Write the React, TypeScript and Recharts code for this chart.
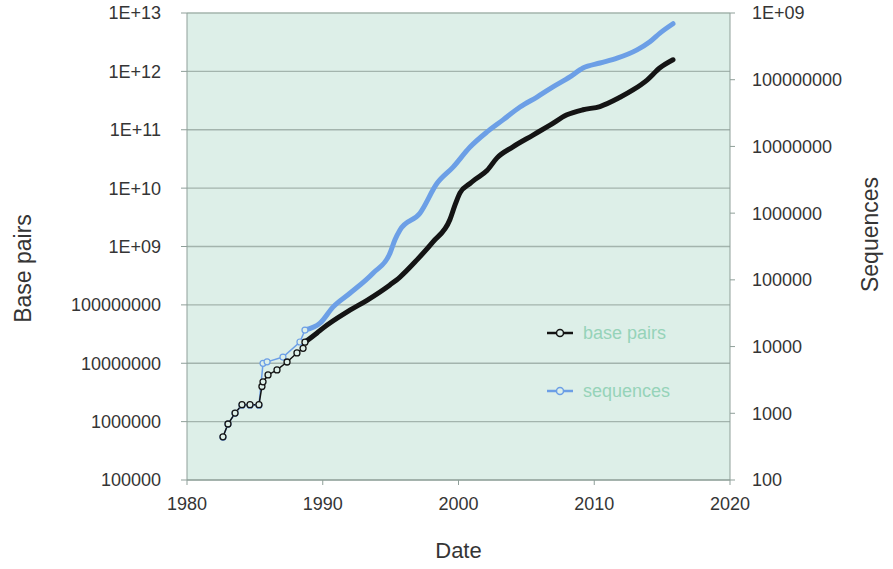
import { ComposedChart, Line, XAxis, YAxis, CartesianGrid, Label } from 'recharts';

// values
const bpYears = [
  1982.65, 1983.02, 1983.54, 1984.05, 1984.64, 1985.3, 1985.52, 1985.6, 1985.97, 1986.63,
  1987.37, 1988.1, 1988.55, 1988.69, 1989.58, 1990.02, 1992.0, 1993.26, 1994.95, 1995.69,
  1996.94, 1998.12, 1999.37, 1999.74, 2000.11, 2000.85, 2001.2, 2002.1, 2002.84, 2004.01,
  2005.49, 2006.74, 2007.99, 2009.17, 2010.42, 2011.9, 2012.85, 2013.89, 2014.84, 2015.8,
];
const bpValues = [
  5.5e5, 9.1e5, 1.4e6, 1.95e6, 1.95e6, 1.95e6, 4.0e6, 4.8e6, 6.3e6, 7.7e6,
  1.05e7, 1.5e7, 1.8e7, 2.3e7, 3.3e7, 4.0e7, 8.1e7, 1.2e8, 2.2e8, 3.0e8,
  5.9e8, 1.2e9, 2.9e9, 5.1e9, 8.3e9, 1.2e10, 1.4e10, 2.0e10, 3.3e10, 5.1e10,
  8.1e10, 1.2e11, 1.8e11, 2.2e11, 2.5e11, 3.6e11, 4.8e11, 7.1e11, 1.15e12, 1.58e12,
];

const seqYears = [
  1982.65, 1983.02, 1983.54, 1984.05, 1984.64, 1985.3, 1985.6, 1985.9, 1987.07, 1988.32,
  1988.69, 1989.8, 1990.75, 1992.0, 1993.7, 1994.95, 1995.32, 1995.69, 1997.16, 1998.42,
  1999.6, 2000.85, 2002.1, 2003.28, 2004.53, 2005.78, 2006.96, 2008.21, 2009.17, 2010.42,
  2011.68, 2013.15, 2014.1, 2014.84, 2015.8,
];
const seqValues = [
  436, 690, 1000, 1320, 1320, 1320, 5600, 5900, 6960, 11700,
  17700, 22400, 39000, 63000, 126000, 250000, 400000, 560000, 1.0e6, 2.8e6,
  4.9e6, 9.8e6, 1.65e7, 2.5e7, 3.9e7, 5.5e7, 7.8e7, 1.1e8, 1.5e8, 1.78e8,
  2.1e8, 2.8e8, 3.7e8, 5.0e8, 6.9e8,
];

const yearTicks = [1980, 1990, 2000, 2010, 2020];
const bpTicks = [1e5, 1e6, 1e7, 1e8, 1e9, 1e10, 1e11, 1e12, 1e13];
const seqTicks = [1e2, 1e3, 1e4, 1e5, 1e6, 1e7, 1e8, 1e9];

// the early years are sparse points; after the 1988 jump the points are dense
const SPLIT = 1988.7;

const bpData = bpYears.map((year, i) => ({ year, bp: bpValues[i] }));
const seqData = seqYears.map((year, i) => ({ year, seq: seqValues[i] }));

const FONT = '"Liberation Sans", Arial, Helvetica, sans-serif';
const BG = '#ddefe8';
const BLACK = '#141414';
const BLUE = '#6c9fe6';
const TEXT = '#353535';

const fmt = (v: number) => {
  const e = Math.round(Math.log10(v));
  return e >= 9 ? `1E+${String(e).padStart(2, '0')}` : String(v);
};

function AxisTitle({ viewBox, text, dx, dy }: any) {
  const cx = viewBox.x + dx;
  const cy = viewBox.y + viewBox.height / 2 + dy;
  return (
    <text x={cx} y={cy} transform={`rotate(-90 ${cx} ${cy})`} textAnchor="middle"
      dominantBaseline="central" fill={TEXT} fontSize={23} fontFamily={FONT}>
      {text}
    </text>
  );
}

function LegendBox() {
  const row = (color: string, label: string) => (
    <div style={{ display: 'flex', alignItems: 'center', height: 22 }}>
      <svg width={28} height={12}>
        <line x1={0} y1={6} x2={26} y2={6} stroke={color} strokeWidth={2.5} />
        <circle cx={13} cy={6} r={3.5} stroke={color} strokeWidth={1.5} fill={BG} />
      </svg>
      <span style={{ marginLeft: 8, color: '#96d3b9', fontSize: 18, fontFamily: FONT }}>{label}</span>
    </div>
  );
  return (
    <div style={{ position: 'absolute', left: 547, top: 322 }}>
      {row(BLACK, 'base pairs')}
      <div style={{ height: 36 }} />
      {row(BLUE, 'sequences')}
    </div>
  );
}

export default function App() {
  return (
    <div style={{ position: 'absolute', left: 0, top: 0, width: 893, height: 569, background: '#fff' }}>
      <ComposedChart width={893} height={569} margin={{ top: 13, right: 0, bottom: 0, left: 0 }}>
        <CartesianGrid yAxisId="bp" vertical={false} stroke="#a3b4ad" strokeWidth={1.3} fill={BG} fillOpacity={1} />
        <XAxis
          dataKey="year"
          type="number"
          domain={[1980, 2020]}
          ticks={yearTicks}
          allowDataOverflow
          height={89}
          stroke="#8f9f99"
          tickSize={5}
          tickMargin={12}
          tick={{ fill: TEXT, fontSize: 18, fontFamily: FONT }}
        >
          <Label value="Date" position="insideBottom" offset={11} fill={TEXT} fontSize={22} fontFamily={FONT} />
        </XAxis>
        <YAxis
          yAxisId="bp"
          orientation="left"
          scale="log"
          domain={[1e5, 1e13]}
          ticks={bpTicks}
          allowDataOverflow
          width={187}
          stroke="#8f9f99"
          tickSize={6}
          tickMargin={20}
          tickFormatter={fmt}
          tick={{ fill: TEXT, fontSize: 18, fontFamily: FONT }}
        >
          <Label content={(p: any) => <AxisTitle viewBox={p.viewBox} text="Base pairs" dx={23} dy={22} />} />
        </YAxis>
        <YAxis
          yAxisId="seq"
          orientation="right"
          scale="log"
          domain={[1e2, 1e9]}
          ticks={seqTicks}
          allowDataOverflow
          width={163}
          stroke="#8f9f99"
          tickSize={5}
          tickMargin={17}
          tickFormatter={fmt}
          tick={{ fill: TEXT, fontSize: 18, fontFamily: FONT }}
        >
          <Label content={(p: any) => <AxisTitle viewBox={p.viewBox} text="Sequences" dx={140} dy={-12} />} />
        </YAxis>

        <Line yAxisId="seq" data={seqData.filter(d => d.year <= SPLIT)} dataKey="seq" name="sequences"
          stroke={BLUE} strokeWidth={1.5} dot={{ r: 3, stroke: BLUE, strokeWidth: 1.2, fill: BG }}
          isAnimationActive={false} />
        <Line yAxisId="seq" type="monotone" data={seqData.filter(d => d.year >= SPLIT - 0.02)} dataKey="seq" name="sequences"
          stroke={BLUE} strokeWidth={5} strokeLinejoin="round" strokeLinecap="round" dot={false}
          isAnimationActive={false} />
        <Line yAxisId="bp" data={bpData.filter(d => d.year <= SPLIT)} dataKey="bp" name="base pairs"
          stroke={BLACK} strokeWidth={1.5} dot={{ r: 3, stroke: BLACK, strokeWidth: 1.3, fill: BG }}
          isAnimationActive={false} />
        <Line yAxisId="bp" type="monotone" data={bpData.filter(d => d.year >= SPLIT - 0.02)} dataKey="bp" name="base pairs"
          stroke={BLACK} strokeWidth={5} strokeLinejoin="round" strokeLinecap="round" dot={false}
          isAnimationActive={false} />
      </ComposedChart>
      <LegendBox />
    </div>
  );
}
